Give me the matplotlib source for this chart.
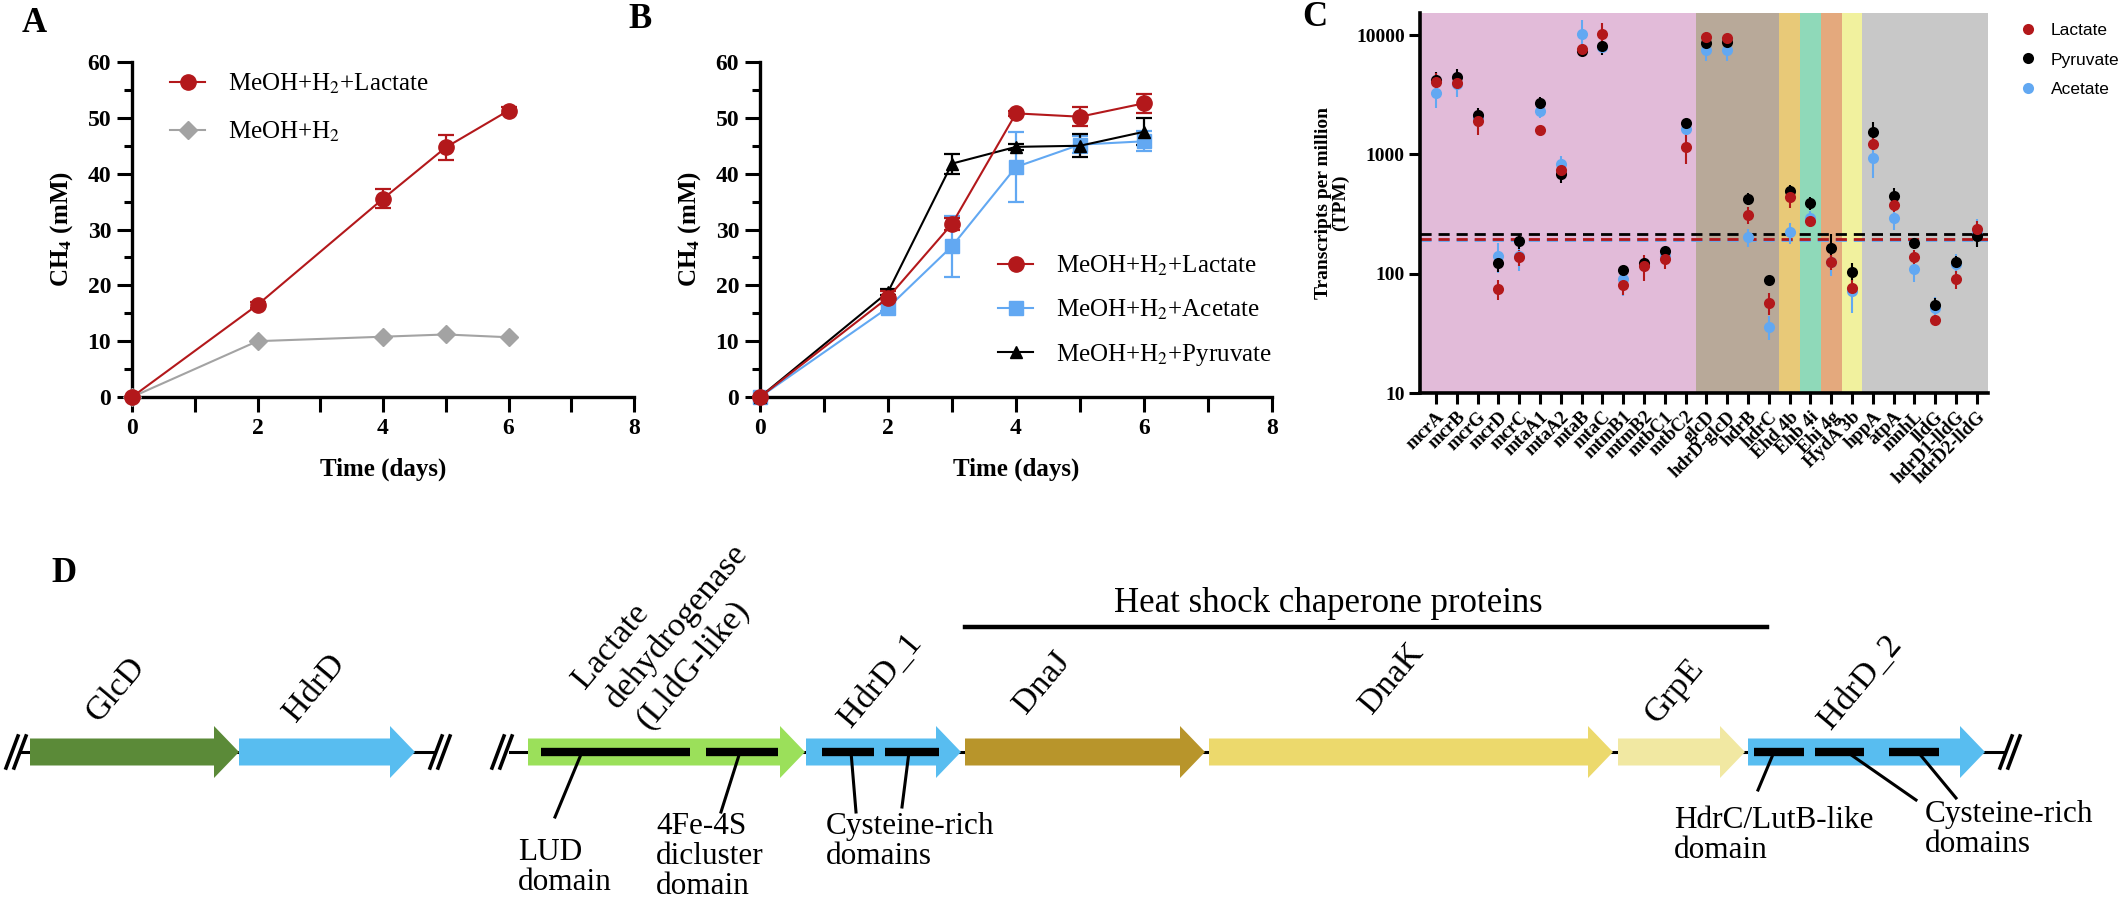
import numpy as np
import matplotlib
matplotlib.use('Agg')
import matplotlib.pyplot as plt
from matplotlib.patches import Polygon
from matplotlib.lines import Line2D
from matplotlib.ticker import NullLocator

plt.rcParams['font.family'] = ['Liberation Serif', 'DejaVu Serif']
plt.rcParams['mathtext.fontset'] = 'stix'

W, H = 2125, 916

# ---------------- data ----------------
# A: CH4 production (mM)
days_a = [0, 2, 4, 5, 6]
lac_a = [0, 16.5, 35.5, 44.7, 51.3]
lac_a_sd = [0, 0.6, 1.7, 2.3, 0.6]
ctrl_a = [0, 10.0, 10.8, 11.2, 10.7]
ctrl_a_sd = [0, 0.3, 0.5, 0.5, 0.3]

# B
days_b = [0, 2, 3, 4, 5, 6]
lac_b = [0, 17.8, 31.0, 50.8, 50.2, 52.6]
lac_b_sd = [0, 1.2, 1.0, 0.4, 1.7, 1.7]
ace_b = [0, 16.0, 27.0, 41.2, 45.2, 45.8]
ace_b_sd = [0, 0.6, 5.5, 6.2, 1.5, 1.8]
pyr_b = [0, 18.8, 41.8, 44.8, 45.0, 47.5]
pyr_b_sd = [0, 0.6, 1.8, 0.5, 2.1, 2.4]

# C: transcripts per million
genes = ['mcrA', 'mcrB', 'mcrG', 'mcrD', 'mcrC', 'mtaA1', 'mtaA2', 'mtaB', 'mtaC',
         'mtmB1', 'mtmB2', 'mtbC1', 'mtbC2', 'glcD', 'hdrD-glcD', 'hdrB', 'hdrC',
         'Ehd 4b', 'Ehb 4i', 'Ehi 4g', 'HydA 3b', 'hppA', 'atpA', 'mnhL', 'lldG',
         'hdrD1-lldG', 'hdrD2-lldG']
tpm_lac = [4050, 3930, 1900, 74, 137, 1590, 743, 7590, 10300, 81, 115, 134, 1150,
           9680, 9380, 311, 57, 437, 275, 126, 76, 1230, 377, 137, 41, 90, 238]
tpm_lac_sd = [800, 500, 450, 14, 20, 80, 60, 700, 2300, 15, 28, 25, 320,
              900, 900, 50, 12, 80, 30, 18, 12, 150, 50, 20, 4, 15, 40]
tpm_pyr = [4200, 4420, 2130, 124, 187, 2670, 680, 7380, 8090, 107, 124, 156, 1840,
           8510, 8680, 425, 88, 497, 393, 163, 104, 1540, 444, 180, 55, 126, 208]
tpm_pyr_sd = [700, 760, 300, 20, 25, 380, 100, 600, 1300, 8, 10, 12, 100,
              900, 800, 50, 8, 60, 50, 50, 18, 320, 80, 20, 8, 15, 40]
tpm_ace = [3240, 3900, 2000, 141, 140, 2300, 824, 10300, 8000, 90, 118, 140, 1640,
           7480, 7480, 202, 36, 222, 295, 125, 72, 938, 294, 110, 52, 120, 230]
tpm_ace_sd = [800, 900, 200, 40, 35, 300, 150, 3000, 800, 25, 15, 20, 150,
              1400, 1400, 35, 8, 45, 40, 30, 25, 300, 60, 25, 12, 25, 60]
thresholds = {'Pyruvate': 217, 'Lactate': 195, 'Acetate': 191}
group_sizes = [13, 4, 1, 1, 1, 1, 6]
group_colors = ['#e2bbd9', '#b8a999', '#e8c978', '#8fd9b9', '#e4a97d', '#f1f19e', '#c8c8c8']

# D: gene cluster (positions along the drawing, px)
gene_names = ['GlcD', 'HdrD', 'Lactate\ndehydrogenase\n(LldG-like)', 'HdrD_1',
              'DnaJ', 'DnaK', 'GrpE', 'HdrD_2']
gene_start = [30, 239, 528, 806, 965, 1209, 1618, 1748]
gene_end = [239, 415, 805, 961, 1205, 1613, 1745, 1985]
gene_colors = ['#5b8a38', '#58bdf0', '#9be05a', '#58bdf0', '#b8952b', '#ecd96c',
               '#f1e8a2', '#58bdf0']
gene_label_pos = [(99, 723), (296, 723), (585, 690), (851, 728),
                  (1026, 715), (1372, 715), (1657, 725), (1831, 730)]
domain_start = [541, 706, 822, 885, 1754, 1815, 1889]
domain_end = [690, 778, 874, 939, 1804, 1864, 1939]

red = '#b3181b'
blue = '#62a8f2'
gray = '#a3a3a3'


def rect(x0, y0, x1, y1):
    return [x0 / W, 1 - y1 / H, (x1 - x0) / W, (y1 - y0) / H]


fig = plt.figure(figsize=(W / 100, H / 100), dpi=100)

# ---------------- D (drawn on a full-figure canvas) ----------------
axD = fig.add_axes([0, 0, 1, 1])
axD.set_xlim(0, W)
axD.set_ylim(H, 0)
axD.axis('off')
yc = 752

# backbone lines and break marks
for x0, x1 in [(20, 435), (510, 2005)]:
    axD.plot([x0, x1], [yc, yc], color='black', lw=2.2, zorder=1)
for xb in [16, 440, 502, 2010]:
    for dx in (-4, 4):
        axD.plot([xb + dx - 6, xb + dx + 6], [yc + 16, yc - 16], color='black', lw=2.6, zorder=3)

for name, x0, x1, c in zip(gene_names, gene_start, gene_end, gene_colors):
    hl = 25
    pts = [(x0, yc - 13.5), (x1 - hl, yc - 13.5), (x1 - hl, yc - 26), (x1, yc),
           (x1 - hl, yc + 26), (x1 - hl, yc + 13.5), (x0, yc + 13.5)]
    axD.add_patch(Polygon(pts, closed=True, facecolor=c, edgecolor='none', zorder=2))

# gene names (rotated, one line at a time)
for name, (x, y) in zip(gene_names, gene_label_pos):
    for k, line in enumerate(name.split('\n')):
        axD.text(x + 32 * k, y + 20 * k, line, rotation=50, rotation_mode='anchor',
                 ha='left', va='baseline', fontsize=24.5)

# domain bars
for d0, d1 in zip(domain_start, domain_end):
    axD.plot([d0, d1], [yc, yc], color='black', lw=6, solid_capstyle='butt', zorder=4)

# leaders and domain labels
leaders = [(582, 555, 817), (740, 721, 812), (851, 856, 812), (909, 902, 807),
           (1774, 1758, 790), (1847, 1916, 800), (1918, 1956, 798)]
for xa, xb, yb in leaders:
    axD.plot([xa, xb], [yc, yb], color='black', lw=2.2, zorder=4)
dom_labels = [('LUD\ndomain', 518, 838), ('4Fe-4S\ndicluster\ndomain', 656, 812),
              ('Cysteine-rich\ndomains', 826, 812), ('HdrC/LutB-like\ndomain', 1674, 806),
              ('Cysteine-rich\ndomains', 1925, 800)]
for txt, x, y in dom_labels:
    axD.text(x, y, txt, ha='left', va='top', fontsize=22.5, linespacing=1.05)

# heat shock bracket
axD.plot([965, 1767], [627, 627], color='black', lw=3.2)
axD.text(1328, 612, 'Heat shock chaperone proteins', ha='center', va='baseline', fontsize=25)


# ---------------- A & B ----------------
def style_time_axis(ax, lab_x):
    ax.set_xlim(0, 8)
    ax.set_ylim(0, 60)
    ax.set_xticks(range(9))
    ax.set_xticklabels([str(d) if d % 2 == 0 else '' for d in range(9)])
    ax.set_yticks(range(0, 61, 10))
    ax.set_yticks(range(5, 60, 10), minor=True)
    for s in ['top', 'right']:
        ax.spines[s].set_visible(False)
    for s in ['left', 'bottom']:
        ax.spines[s].set_linewidth(2.4)
    ax.tick_params(which='major', length=11, width=2.2, labelsize=17, pad=4)
    ax.tick_params(which='minor', length=6, width=2.2)
    for lab in ax.get_xticklabels() + ax.get_yticklabels():
        lab.set_fontweight('bold')
    ax.set_xlabel('Time (days)', fontsize=18, fontweight='bold')
    ax.set_ylabel(r'CH$_\mathbf{4}$ (mM)', fontsize=18, fontweight='bold')
    ax.xaxis.set_label_coords(0.5, -0.18)
    ax.yaxis.set_label_coords(lab_x, 0.5)
    ax.patch.set_alpha(0)


axA = fig.add_axes(rect(132, 62, 634, 397))
axA.errorbar(days_a, lac_a, yerr=lac_a_sd, fmt='none', ecolor=red, elinewidth=1.6,
             capsize=6, capthick=1.6, clip_on=False, zorder=3)
axA.plot(days_a, lac_a, color=red, marker='o', ms=11, lw=1.5, clip_on=False, zorder=4,
         label=r'MeOH+H$_2$+Lactate')
axA.plot(days_a, ctrl_a, color=gray, marker='D', ms=9, lw=1.5, clip_on=False, zorder=3,
         label=r'MeOH+H$_2$')
style_time_axis(axA, -0.114)
axA.legend(loc='upper left', bbox_to_anchor=(0.076, 0.97), frameon=False, fontsize=18,
           handlelength=1.4, handletextpad=0.9, labelspacing=0.95, borderpad=0,
           borderaxespad=0)

axB = fig.add_axes(rect(760, 62, 1272, 397))
for vals, sd, c, m, ms, lab in [
        (ace_b, ace_b_sd, blue, 's', 10, r'MeOH+H$_2$+Acetate'),
        (pyr_b, pyr_b_sd, 'black', '^', 9, r'MeOH+H$_2$+Pyruvate'),
        (lac_b, lac_b_sd, red, 'o', 11, r'MeOH+H$_2$+Lactate')]:
    axB.errorbar(days_b, vals, yerr=sd, fmt='none', ecolor=c, elinewidth=1.6,
                 capsize=6, capthick=1.6, clip_on=False, zorder=3)
    axB.plot(days_b, vals, color=c, marker=m, ms=ms, lw=1.5, clip_on=False, zorder=4,
             label=lab)
style_time_axis(axB, -0.111)
hB, lB = axB.get_legend_handles_labels()
order = [2, 0, 1]
axB.legend([hB[i] for i in order], [lB[i] for i in order], loc='upper left',
           bbox_to_anchor=(0.465, 0.428), frameon=False, fontsize=18, handlelength=1.4,
           handletextpad=0.9, labelspacing=0.8, borderpad=0, borderaxespad=0)

# ---------------- C ----------------
axC = fig.add_axes(rect(1420, 13, 1988, 393))
x = np.arange(len(genes))
xlo, xhi = -0.77, 26.54
axC.set_yscale('log')
axC.set_xlim(xlo, xhi)
axC.set_ylim(10, 15300)
edges = np.concatenate([[xlo], np.cumsum(group_sizes)[:-1] - 0.5, [xhi]])
for i, c in enumerate(group_colors):
    axC.axvspan(edges[i], edges[i + 1], color=c, lw=0, zorder=0)

series = [('Acetate', tpm_ace, tpm_ace_sd, blue),
          ('Pyruvate', tpm_pyr, tpm_pyr_sd, 'black'),
          ('Lactate', tpm_lac, tpm_lac_sd, red)]
for name, vals, sd, c in series:
    axC.axhline(thresholds[name], color=c, lw=2, ls=(0, (4, 2.5)), zorder=1)
for name, vals, sd, c in series:
    axC.errorbar(x, vals, yerr=sd, fmt='o', color=c, ms=8, mew=0, elinewidth=1.5,
                 capsize=4.5, capthick=1.5, zorder=3)

for s in ['top', 'right']:
    axC.spines[s].set_visible(False)
for s in ['left', 'bottom']:
    axC.spines[s].set_linewidth(2.6)
axC.set_yticks([10, 100, 1000, 10000])
axC.set_yticklabels(['10', '100', '1000', '10000'])
axC.yaxis.set_minor_locator(NullLocator())
axC.set_xticks(x)
axC.set_xticklabels(genes, rotation=45, ha='right', va='top', rotation_mode='anchor',
                    fontsize=13.5, fontweight='bold')
axC.tick_params(axis='both', which='major', length=8, width=2.2, pad=3)
axC.tick_params(axis='y', labelsize=14)
for lab in axC.get_yticklabels():
    lab.set_fontweight('bold')
axC.set_ylabel('Transcripts per million\n(TPM)', fontsize=14, fontweight='bold',
               linespacing=1.0)
axC.yaxis.set_label_coords(-0.125, 0.5)

handles = [Line2D([], [], ls='', marker='o', ms=8, color=c, mew=0) for c in [red, 'black', blue]]
axC.legend(handles, ['Lactate', 'Pyruvate', 'Acetate'], loc='upper left',
           bbox_to_anchor=(1.055, 0.975), frameon=False, handlelength=1.0,
           handletextpad=0.8, labelspacing=0.85, borderpad=0, borderaxespad=0,
           prop={'family': 'Liberation Sans', 'size': 12.5})

# panel letters
for letter, px, py in [('A', 34, 24), ('B', 640, 20), ('C', 1315, 18), ('D', 64, 573)]:
    fig.text(px / W, 1 - py / H, letter, fontsize=25, fontweight='bold',
             ha='center', va='center')

fig.savefig('out.png', dpi=100)
